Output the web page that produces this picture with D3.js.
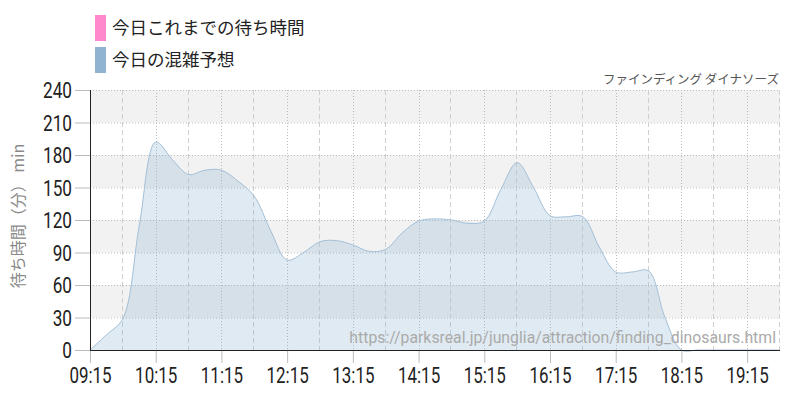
<!DOCTYPE html>
<html><head><meta charset="utf-8">
<script src="https://cdn.jsdelivr.net/npm/d3@7"></script>
<style>
html,body{margin:0;padding:0;background:#fff;}
svg{display:block;}
</style></head>
<body>
<svg id="chart" width="800" height="400"></svg>
<script>
const times = ["09:15","09:30","09:45","10:00","10:15","10:30","10:45","11:00","11:15","11:30","11:45","12:00","12:15","12:30","12:45","13:00","13:15","13:30","13:45","14:00","14:15","14:30","14:45","15:00","15:15","15:30","15:45","16:00","16:15","16:30","16:45","17:00","17:15","17:30","17:45","18:00","18:15","18:30","18:45","19:00","19:15","19:30","19:45"];
const forecast = [0,14,29,115,192,176,162,166,166,156,142,110,83,90,100,101,97,91,93,108,119,121,120,117,119,148,173,150,124,123,123,95,72,72,73,30,0,0,0,0,0,0,0];
const actual = [];
const xTickLabels = ["09:15","10:15","11:15","12:15","13:15","14:15","15:15","16:15","17:15","18:15","19:15"];
const xGridHalf = ["09:45","10:45","11:45","12:45","13:45","14:45","15:45","16:45","17:45","18:45","19:45"];
const yTicks = [0,30,60,90,120,150,180,210,240];
const legendLabels = ["今日これまでの待ち時間","今日の混雑予想"];
const legendColors = ["#ff88cc","#8fb3d0"];
const yTitle = "待ち時間（分） min";
const attractionName = "ファインディング ダイナソーズ";
const sourceUrl = "https://parksreal.jp/junglia/attraction/finding_dinosaurs.html";

const toMin = s => { const [h,m] = s.split(":").map(Number); return h*60+m; };
const svg = d3.select("#chart");
const L = 90, R = 780, T = 90, B = 350;
const x = d3.scaleLinear().domain([toMin("09:15"), toMin("19:45")]).range([L, R]);
const y = d3.scaleLinear().domain([0, 240]).range([B, T]);

const condense = (sel, f) => sel.each(function(){
  const w = this.getComputedTextLength();
  d3.select(this).attr("textLength", w*f).attr("lengthAdjust","spacingAndGlyphs");
});

// bands
const bands = yTicks.slice(0,-1).map((v,i)=>[v, yTicks[i+1], i]);
svg.append("g").selectAll("rect").data(bands.filter(b=>b[2]%2===1)).join("rect")
  .attr("x", L).attr("width", R-L)
  .attr("y", d=>y(d[1])).attr("height", d=>y(d[0])-y(d[1]))
  .attr("fill", "#f2f2f2");

// horizontal grid
svg.append("g").selectAll("line").data(yTicks.filter(v=>v>0)).join("line")
  .attr("x1", L).attr("x2", R).attr("y1", d=>y(d)+0.5).attr("y2", d=>y(d)+0.5)
  .attr("stroke", "#bbb").attr("stroke-dasharray", "1,2");
// vertical grid
svg.append("g").selectAll("line").data(xTickLabels.slice(1)).join("line")
  .attr("x1", d=>Math.round(x(toMin(d)))+0.5).attr("x2", d=>Math.round(x(toMin(d)))+0.5)
  .attr("y1", T).attr("y2", B)
  .attr("stroke", "#bbb").attr("stroke-dasharray", "1,2");
svg.append("g").selectAll("line").data(xGridHalf).join("line")
  .attr("x1", d=>Math.round(x(toMin(d)))-0.5).attr("x2", d=>Math.round(x(toMin(d)))-0.5)
  .attr("y1", T).attr("y2", B)
  .attr("stroke", "#d0d0d0").attr("stroke-dasharray", "5,3");

// area
const pts = times.map((t,i)=>({t:toMin(t), v:forecast[i]}));
const area = d3.area().x(d=>x(d.t)).y0(y(0)).y1(d=>y(d.v)).curve(d3.curveCatmullRom.alpha(0.5));
const line = d3.line().x(d=>x(d.t)).y(d=>y(d.v)).curve(d3.curveCatmullRom.alpha(0.5));
svg.append("path").datum(pts).attr("d", area).attr("fill", "rgba(143,179,208,0.28)");
svg.append("path").datum(pts).attr("d", line).attr("fill","none").attr("stroke","#a3bfd8").attr("stroke-width",1);

// watermark
svg.append("text").attr("x", 776).attr("y", 343).attr("text-anchor","end")
  .attr("font-family","Roboto, sans-serif").attr("font-size",16.5).attr("fill","#aaa")
  .text(sourceUrl).call(condense, 427/446);

// axes
const yAxis = d3.axisLeft(y).tickValues(yTicks).tickSize(15).tickPadding(3);
const gy = svg.append("g").attr("transform", `translate(${L},0)`).call(yAxis);
gy.select(".domain").remove();
gy.selectAll(".tick line").attr("stroke","#bbb");
gy.selectAll(".tick text").attr("font-family","Roboto, sans-serif").attr("font-size",22).attr("fill","#222").attr("dy","0.35em").call(condense, 0.78);

const xAxis = d3.axisBottom(x).tickValues(xTickLabels.map(toMin)).tickFormat((d,i)=>xTickLabels[i]).tickSize(13).tickPadding(4);
const gx = svg.append("g").attr("transform", `translate(0,${B})`).call(xAxis);
gx.select(".domain").remove();
gx.selectAll(".tick line").attr("stroke","#bbb");
gx.selectAll(".tick text").attr("font-family","Roboto, sans-serif").attr("font-size",22).attr("fill","#222").call(condense, 0.77);

svg.append("line").attr("x1",L+0.5).attr("x2",L+0.5).attr("y1",T).attr("y2",B).attr("stroke","#222");
svg.append("line").attr("x1",L).attr("x2",R).attr("y1",B+0.5).attr("y2",B+0.5).attr("stroke","#222");

// y title
svg.append("text").attr("transform","translate(24,216) rotate(-90)").attr("text-anchor","middle")
  .attr("font-family","'Noto Sans CJK JP', sans-serif").attr("font-size",16).attr("fill","#8a8a8a")
  .text(yTitle);

// legend
const lg = svg.append("g");
legendLabels.forEach((lab,i)=>{
  lg.append("rect").attr("x",95).attr("y",15+i*32).attr("width",11).attr("height",26).attr("fill",legendColors[i]);
  lg.append("text").attr("x",112).attr("y",34+i*32).attr("font-family","'Noto Sans CJK JP', sans-serif")
    .attr("font-size",17.5).attr("fill","#222").text(lab);
});

// attraction name
svg.append("text").attr("x",779).attr("y",84).attr("text-anchor","end")
  .attr("font-family","'Noto Sans CJK JP', sans-serif").attr("font-size",12.5).attr("fill","#555")
  .text(attractionName);
</script>
</body></html>
